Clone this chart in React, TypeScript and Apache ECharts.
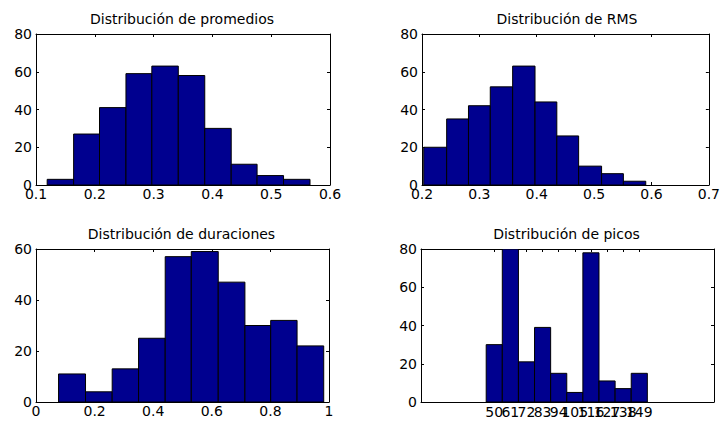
import React, { useEffect, useRef } from "react";
import * as echarts from "echarts";

// ---- data ----
const promediosEdges = [0.119, 0.164, 0.208, 0.253, 0.297, 0.342, 0.387, 0.432, 0.476, 0.521, 0.566];
const promediosCounts = [3, 27, 41, 59, 63, 58, 30, 11, 5, 3];

const rmsEdges = [0.203, 0.243, 0.281, 0.319, 0.358, 0.397, 0.435, 0.473, 0.513, 0.551, 0.59];
const rmsCounts = [20, 35, 42, 52, 63, 44, 26, 10, 6, 2];

const duracionesEdges = [0.077, 0.169, 0.26, 0.35, 0.441, 0.53, 0.622, 0.713, 0.801, 0.891, 0.982];
const duracionesCounts = [11, 4, 13, 25, 57, 59, 47, 30, 32, 22];

const picosCenters = [50, 61, 72, 83, 94, 105, 116, 127, 138, 149];
const picosBinWidth = 11;
const picosCounts = [30, 80, 21, 39, 15, 5, 78, 11, 7, 15];

const titles = [
  "Distribución de promedios",
  "Distribución de RMS",
  "Distribución de duraciones",
  "Distribución de picos",
];

const FONT = "DejaVu Sans";
const BAR = "#00008F";

function fromEdges(edges: number[], counts: number[]) {
  return counts.map((c, i) => [edges[i], edges[i + 1], c]);
}
function fromCenters(centers: number[], w: number, counts: number[]) {
  return counts.map((c, i) => [centers[i] - w / 2, centers[i] + w / 2, c]);
}

const grids = [
  { left: 36, top: 34, width: 294, height: 151 },
  { left: 422, top: 34, width: 292, height: 151 },
  { left: 36, top: 249, width: 293, height: 153 },
  { left: 421, top: 249, width: 293, height: 153 },
];

const xSpecs: any[] = [
  { min: 0.1, max: 0.6, interval: 0.1 },
  { min: 0.2, max: 0.7, interval: 0.1 },
  { min: 0, max: 1, interval: 0.2 },
  { min: 0, max: 200, custom: picosCenters },
];
const ySpecs = [
  { min: 0, max: 80, interval: 20 },
  { min: 0, max: 80, interval: 20 },
  { min: 0, max: 60, interval: 20 },
  { min: 0, max: 80, interval: 20 },
];

const datasets = [
  fromEdges(promediosEdges, promediosCounts),
  fromEdges(rmsEdges, rmsCounts),
  fromEdges(duracionesEdges, duracionesCounts),
  fromCenters(picosCenters, picosBinWidth, picosCounts),
];

const lineStyle = { color: "#000", width: 1 };

export default function App() {
  const ref = useRef<HTMLDivElement>(null);
  useEffect(() => {
    if (!ref.current) return;
    const chart = echarts.init(ref.current, undefined, { renderer: "svg" });

    const xAxis: any[] = [];
    const yAxis: any[] = [];
    grids.forEach((g, i) => {
      const xs = xSpecs[i];
      const base: any = {
        type: "value",
        gridIndex: i,
        min: xs.min,
        max: xs.max,
        splitLine: { show: false },
        axisLine: { show: true, onZero: false, lineStyle },
      };
      if (xs.interval !== undefined) base.interval = xs.interval;
      const tick: any = { show: true, inside: true, length: 3, lineStyle };
      if (xs.custom) tick.customValues = xs.custom;
      const label: any = xs.custom
        ? { show: false }
        : {
            show: true,
            color: "#000",
            fontFamily: FONT,
            fontSize: 14,
            margin: 2,
            showMinLabel: true,
            showMaxLabel: true,
          };
      xAxis.push({ ...base, position: "bottom", axisTick: tick, axisLabel: label });
      xAxis.push({ ...base, position: "top", axisTick: tick, axisLabel: { show: false } });

      const ys = ySpecs[i];
      const ybase: any = {
        type: "value",
        gridIndex: i,
        min: ys.min,
        max: ys.max,
        interval: ys.interval,
        splitLine: { show: false },
        axisLine: { show: true, onZero: false, lineStyle },
        axisTick: { show: true, inside: true, length: 3, lineStyle },
      };
      yAxis.push({
        ...ybase,
        position: "left",
        axisLabel: { show: true, color: "#000", fontFamily: FONT, fontSize: 14, margin: 4 },
      });
      yAxis.push({ ...ybase, position: "right", axisLabel: { show: false } });
    });

    const series: any[] = datasets.map((data, i) => ({
      type: "custom",
      xAxisIndex: i * 2,
      yAxisIndex: i * 2,
      data,
      encode: { x: [0, 1], y: 2 },
      clip: true,
      renderItem: (_p: any, api: any) => {
        const p0 = api.coord([api.value(0), api.value(2)]);
        const p1 = api.coord([api.value(1), 0]);
        return {
          type: "rect",
          shape: { x: p0[0], y: p0[1], width: p1[0] - p0[0], height: p1[1] - p0[1] },
          style: { fill: BAR, stroke: "#000", lineWidth: 1 },
        };
      },
    }));

    // tick labels of the "picos" axis: all drawn, overlapping as in the reference
    series.push({
      type: "custom",
      xAxisIndex: 6,
      yAxisIndex: 6,
      data: picosCenters.map((c) => [c, 0]),
      encode: { x: 0, y: 1 },
      clip: false,
      silent: true,
      renderItem: (_p: any, api: any) => {
        const p = api.coord([api.value(0), 0]);
        return {
          type: "text",
          x: p[0],
          y: p[1] + 3,
          style: {
            text: String(api.value(0)),
            textAlign: "center",
            textVerticalAlign: "top",
            fontFamily: FONT,
            fontSize: 14,
            fill: "#000",
          },
        };
      },
    });

    const graphic = grids.map((g, i) => ({
      type: "text",
      x: g.left + g.width / 2 - 1,
      y: g.top - 22,
      style: {
        text: titles[i],
        textAlign: "center",
        textVerticalAlign: "top",
        fontFamily: FONT,
        fontSize: 14,
        fill: "#000",
      },
    }));

    chart.setOption({
      animation: false,
      backgroundColor: "#fff",
      grid: grids.map((g) => ({ ...g, containLabel: false })),
      xAxis,
      yAxis,
      series,
      graphic,
    });
    return () => chart.dispose();
  }, []);

  return (
    <div
      ref={ref}
      style={{ position: "fixed", left: 0, top: 0, width: 723, height: 422 }}
    />
  );
}
